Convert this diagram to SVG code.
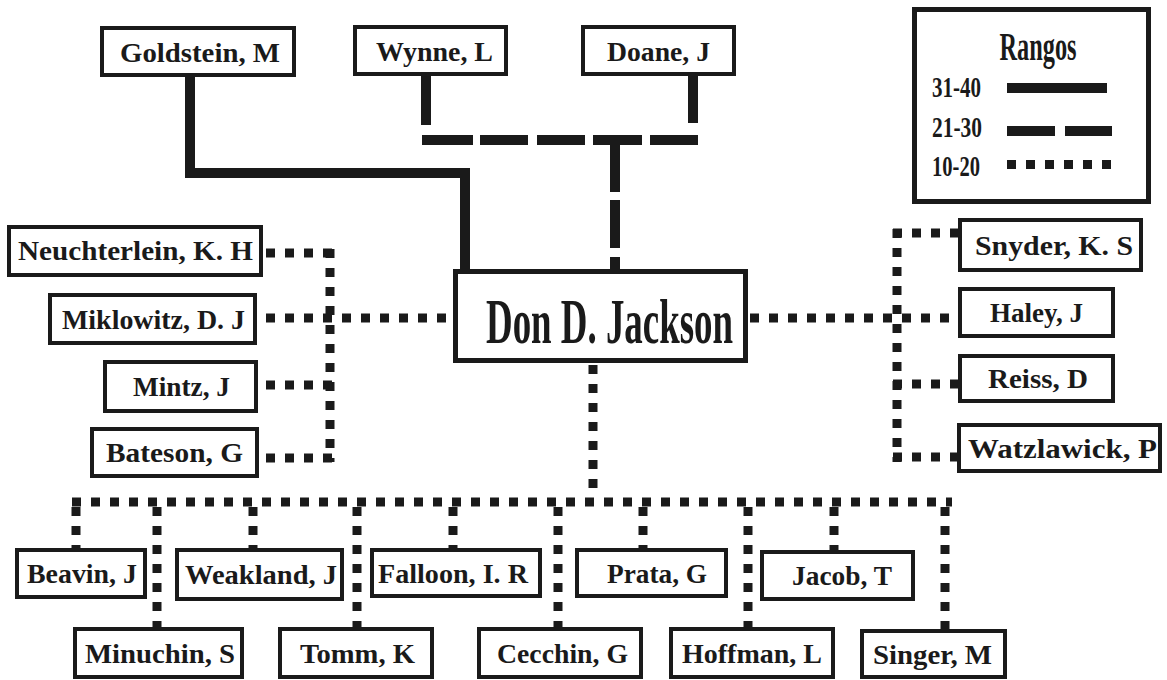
<svg xmlns="http://www.w3.org/2000/svg" width="1167" height="680" viewBox="0 0 1167 680">
  <style>
    .box { fill: #ffffff; stroke: #1a1a1a; stroke-width: 4; }
    .big { fill: #ffffff; stroke: #1a1a1a; stroke-width: 5; }
    .lbl { font-family: "Liberation Serif", "Times New Roman", serif; font-weight: bold; font-size: 27px; fill: #1a1a1a; text-anchor: middle; }
    .cond { font-family: "Liberation Serif", "Times New Roman", serif; font-weight: bold; fill: #1a1a1a; text-anchor: middle; }
    .solid { fill: none; stroke: #1a1a1a; stroke-width: 10; stroke-linejoin: miter; }
    .dash { fill: none; stroke: #1a1a1a; stroke-width: 10; }
    .dot { fill: none; stroke: #1a1a1a; stroke-width: 9; stroke-dasharray: 9 10; }
  </style>
  <rect width="1167" height="680" fill="#ffffff"/>

  <!-- connectors -->
  <g id="connectors">
    <!-- 31-40: Goldstein -->
    <path class="solid" d="M190,77 V173 H465 V269"/>
    <!-- 21-30: Wynne / Doane -->
    <path class="dash" d="M426,76 V125"/>
    <path class="dash" d="M693,76 V123"/>
    <path class="dash" d="M422,140 H473 M480,140 H528 M537,140 H585 M593,140 H642 M650,140 H698"/>
    <path class="dash" d="M615,145 V192 M615,200 V248 M615,257 V269"/>
    <!-- 10-20: left cluster -->
    <path class="dot" d="M330,249 V462"/>
    <path class="dot" d="M266,253 H334"/>
    <path class="dot" d="M266,318 H453"/>
    <path class="dot" d="M266,385 H334"/>
    <path class="dot" d="M266,458 H334"/>
    <!-- 10-20: right cluster -->
    <path class="dot" d="M897,229 V462"/>
    <path class="dot" d="M893,233 H958"/>
    <path class="dot" d="M750,318 H958"/>
    <path class="dot" d="M893,384 H958"/>
    <path class="dot" d="M893,457 H958"/>
    <rect x="894.5" y="315.5" width="5" height="5" fill="#ffffff"/>
    <!-- 10-20: bottom row -->
    <path class="dot" d="M593,365 V498"/>
    <path class="dot" d="M72,502 H952"/>
    <path class="dot" d="M76,507 V548"/>
    <path class="dot" d="M157,507 V627"/>
    <path class="dot" d="M253,507 V548"/>
    <path class="dot" d="M357,507 V627"/>
    <path class="dot" d="M453,507 V548"/>
    <path class="dot" d="M558,507 V627"/>
    <path class="dot" d="M643,507 V548"/>
    <path class="dot" d="M748,507 V627"/>
    <path class="dot" d="M834,507 V550"/>
    <path class="dot" d="M945,507 V629"/>
  </g>

  <!-- central node -->
  <g id="jackson">
    <rect class="big" x="455.5" y="271.5" width="290" height="89"/>
    <text class="cond" x="609.5" y="343" font-size="64" textLength="247" lengthAdjust="spacingAndGlyphs">Don D. Jackson</text>
  </g>

  <!-- top row -->
  <g id="goldstein">
    <rect class="box" x="102" y="28" width="192" height="47"/>
    <text class="lbl" x="200" y="62" textLength="160" lengthAdjust="spacingAndGlyphs">Goldstein, M</text>
  </g>
  <g id="wynne">
    <rect class="box" x="355" y="27" width="151" height="47"/>
    <text class="lbl" x="434.5" y="61" textLength="117" lengthAdjust="spacingAndGlyphs">Wynne, L</text>
  </g>
  <g id="doane">
    <rect class="box" x="583" y="27" width="151" height="47"/>
    <text class="lbl" x="658.5" y="61" textLength="103" lengthAdjust="spacingAndGlyphs">Doane, J</text>
  </g>

  <!-- left cluster -->
  <g id="neuchterlein">
    <rect class="box" x="9" y="227" width="252" height="48"/>
    <text class="lbl" x="135.5" y="260" textLength="235" lengthAdjust="spacingAndGlyphs">Neuchterlein, K. H</text>
  </g>
  <g id="miklowitz">
    <rect class="box" x="50" y="295" width="205" height="48"/>
    <text class="lbl" x="153.5" y="329" textLength="183" lengthAdjust="spacingAndGlyphs">Miklowitz, D. J</text>
  </g>
  <g id="mintz">
    <rect class="box" x="105" y="362" width="151" height="49"/>
    <text class="lbl" x="181.5" y="396" textLength="97" lengthAdjust="spacingAndGlyphs">Mintz, J</text>
  </g>
  <g id="bateson">
    <rect class="box" x="92" y="429" width="165" height="47"/>
    <text class="lbl" x="174.5" y="462" textLength="137" lengthAdjust="spacingAndGlyphs">Bateson, G</text>
  </g>

  <!-- right cluster -->
  <g id="snyder">
    <rect class="box" x="960" y="220" width="181" height="50"/>
    <text class="lbl" x="1054" y="255" textLength="158" lengthAdjust="spacingAndGlyphs">Snyder, K. S</text>
  </g>
  <g id="haley">
    <rect class="box" x="960" y="289" width="153" height="47"/>
    <text class="lbl" x="1036.5" y="322" textLength="93" lengthAdjust="spacingAndGlyphs">Haley, J</text>
  </g>
  <g id="reiss">
    <rect class="box" x="960" y="356" width="153" height="45"/>
    <text class="lbl" x="1038" y="388" textLength="100" lengthAdjust="spacingAndGlyphs">Reiss, D</text>
  </g>
  <g id="watzlawick">
    <rect class="box" x="959" y="425" width="201" height="46"/>
    <text class="lbl" x="1062.5" y="458" textLength="189" lengthAdjust="spacingAndGlyphs">Watzlawick, P</text>
  </g>

  <!-- bottom rows -->
  <g id="beavin">
    <rect class="box" x="17" y="550" width="128" height="47"/>
    <text class="lbl" x="82" y="583" textLength="110" lengthAdjust="spacingAndGlyphs">Beavin, J</text>
  </g>
  <g id="minuchin">
    <rect class="box" x="75" y="629" width="167" height="48"/>
    <text class="lbl" x="160" y="663" textLength="150" lengthAdjust="spacingAndGlyphs">Minuchin, S</text>
  </g>
  <g id="weakland">
    <rect class="box" x="177" y="550" width="165" height="49"/>
    <text class="lbl" x="261" y="584" textLength="152" lengthAdjust="spacingAndGlyphs">Weakland, J</text>
  </g>
  <g id="tomm">
    <rect class="box" x="280" y="629" width="152" height="48"/>
    <text class="lbl" x="357.5" y="663" textLength="115" lengthAdjust="spacingAndGlyphs">Tomm, K</text>
  </g>
  <g id="falloon">
    <rect class="box" x="372" y="550" width="168" height="46"/>
    <text class="lbl" x="453" y="583" textLength="150" lengthAdjust="spacingAndGlyphs">Falloon, I. R</text>
  </g>
  <g id="cecchin">
    <rect class="box" x="479" y="629" width="162" height="48"/>
    <text class="lbl" x="562.5" y="663" textLength="131" lengthAdjust="spacingAndGlyphs">Cecchin, G</text>
  </g>
  <g id="prata">
    <rect class="box" x="577" y="550" width="149" height="46"/>
    <text class="lbl" x="657" y="583" textLength="100" lengthAdjust="spacingAndGlyphs">Prata, G</text>
  </g>
  <g id="hoffman">
    <rect class="box" x="671" y="629" width="162" height="48"/>
    <text class="lbl" x="752" y="663" textLength="140" lengthAdjust="spacingAndGlyphs">Hoffman, L</text>
  </g>
  <g id="jacob">
    <rect class="box" x="762" y="552" width="151" height="47"/>
    <text class="lbl" x="842" y="585" textLength="100" lengthAdjust="spacingAndGlyphs">Jacob, T</text>
  </g>
  <g id="singer">
    <rect class="box" x="862" y="631" width="143" height="46"/>
    <text class="lbl" x="932.5" y="664" textLength="119" lengthAdjust="spacingAndGlyphs">Singer, M</text>
  </g>

  <!-- legend -->
  <g id="legend">
    <rect class="big" x="914.5" y="9.5" width="234" height="192"/>
    <text class="cond" x="1038" y="60" font-size="40" textLength="77" lengthAdjust="spacingAndGlyphs">Rangos</text>
    <text class="cond" x="956.5" y="97" font-size="29" textLength="49" lengthAdjust="spacingAndGlyphs">31-40</text>
    <text class="cond" x="957" y="137" font-size="29" textLength="50" lengthAdjust="spacingAndGlyphs">21-30</text>
    <text class="cond" x="956" y="176" font-size="29" textLength="48" lengthAdjust="spacingAndGlyphs">10-20</text>
    <path class="solid" d="M1007,88 H1107"/>
    <path class="dash" d="M1007,131 H1055 M1065,131 H1112"/>
    <path class="dot" d="M1007,164.5 H1114"/>
  </g>
</svg>
